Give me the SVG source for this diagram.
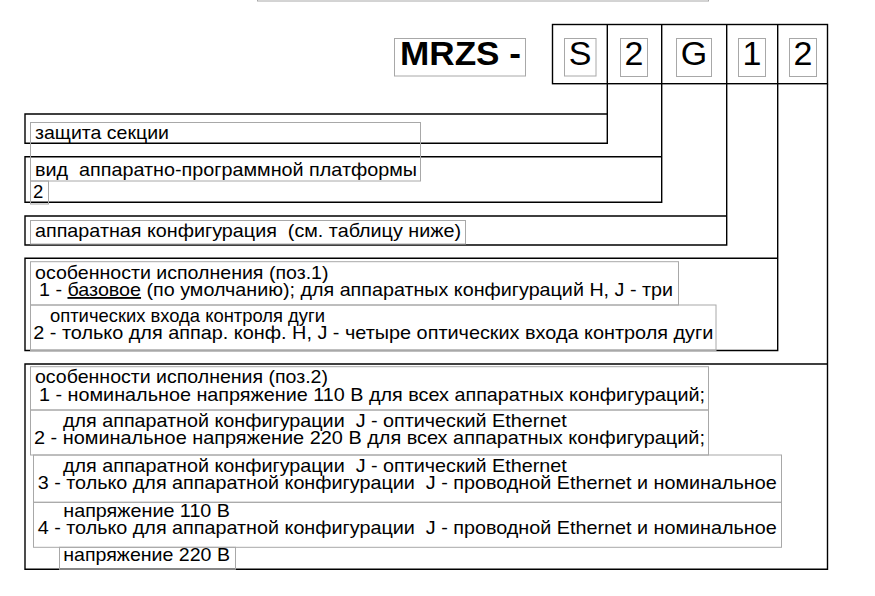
<svg xmlns="http://www.w3.org/2000/svg" width="875" height="596" viewBox="0 0 875 596" xml:space="preserve">
<style>
.ln{fill:none;stroke:#000;stroke-width:1.4}
.gb{fill:none;stroke:#a8a8a8;stroke-width:1}
.t{font-family:"Liberation Sans",Arial,sans-serif;font-size:18.5px;fill:#000;white-space:pre}
.big{font-family:"Liberation Sans",Arial,sans-serif;font-size:34px;fill:#000;text-anchor:middle}
.title{font-family:"Liberation Sans",Arial,sans-serif;font-size:34px;font-weight:bold;fill:#000}
</style>
<rect width="875" height="596" fill="#fff"/>
<rect class="gb" x="257.5" y="-20" width="451" height="21"/>

<g id="code">
  <rect class="gb" x="394.5" y="38.5" width="131" height="37.5"/>
  <text class="title" x="400" y="65" textLength="121" lengthAdjust="spacingAndGlyphs">MRZS -</text>
  <rect class="ln" x="552.5" y="24.5" width="275" height="59.2"/>
  <path class="ln" d="M607.3,24.5V83.7M661.7,24.5V83.7M726.7,24.5V83.7M777.7,24.5V83.7"/>
  <rect class="gb" x="564.5" y="38.5" width="31.5" height="37.5"/>
  <rect class="gb" x="620.5" y="38.5" width="27" height="38"/>
  <rect class="gb" x="676.5" y="38.5" width="35" height="38"/>
  <rect class="gb" x="738.5" y="38.5" width="27" height="38"/>
  <rect class="gb" x="789.5" y="38.5" width="27" height="38"/>
  <text class="big" x="580" y="65">S</text>
  <text class="big" x="634" y="65">2</text>
  <text class="big" x="694" y="65">G</text>
  <text class="big" x="752" y="65">1</text>
  <text class="big" x="803" y="65">2</text>
</g>

<g id="connectors">
  <path class="ln" d="M607.3,83.7V143.3H25V114H607.3"/>
  <path class="ln" d="M661.7,83.7V202.3H25V156.7H661.7"/>
  <path class="ln" d="M726.7,83.7V245H25V216H726.7"/>
  <path class="ln" d="M777.7,83.7V350.5H25V258.3H777.7"/>
  <path class="ln" d="M827.5,83.7V569.3H25V364H827.5"/>
</g>

<g id="n1">
  <rect class="gb" x="30.5" y="122.5" width="390" height="58.5"/>
  <text class="t" x="35" y="138.5" textLength="134" lengthAdjust="spacingAndGlyphs">защита секции</text>
</g>
<g id="n2">
  <text class="t" x="35" y="175.5" textLength="382" lengthAdjust="spacingAndGlyphs">вид  аппаратно-программной платформы</text>
  <rect class="gb" x="30.5" y="181" width="18" height="23"/>
  <text class="t" x="33" y="197.5">2</text>
</g>
<g id="n3">
  <rect class="gb" x="30.5" y="220.5" width="435" height="23.5"/>
  <text class="t" x="35" y="237" textLength="426" lengthAdjust="spacingAndGlyphs">аппаратная конфигурация  (см. таблицу ниже)</text>
</g>
<g id="n4">
  <rect class="gb" x="30.5" y="261.7" width="648" height="43.3"/>
  <rect class="gb" x="30.5" y="305" width="685.5" height="45.5"/>
  <text class="t" x="35" y="278.5" textLength="293.5" lengthAdjust="spacingAndGlyphs">особенности исполнения (поз.1)</text>
  <text class="t" x="39" y="296" textLength="634" lengthAdjust="spacingAndGlyphs">1 - <tspan text-decoration="underline">базовое</tspan> (по умолчанию); для аппаратных конфигураций H, J - три</text>
  <text class="t" x="50" y="322" textLength="275" lengthAdjust="spacingAndGlyphs">оптических входа контроля дуги</text>
  <text class="t" x="33.3" y="339" textLength="680" lengthAdjust="spacingAndGlyphs">2 - только для аппар. конф. H, J - четыре оптических входа контроля дуги</text>
</g>
<g id="n5">
  <rect class="gb" x="30.5" y="366.7" width="678" height="43.3"/>
  <rect class="gb" x="30.5" y="410" width="678" height="45"/>
  <rect class="gb" x="33.5" y="455" width="748" height="47.3"/>
  <rect class="gb" x="33.5" y="502.3" width="748" height="45"/>
  <rect class="gb" x="59.5" y="547.3" width="176" height="22"/>
  <text class="t" x="35" y="383.3" textLength="293" lengthAdjust="spacingAndGlyphs">особенности исполнения (поз.2)</text>
  <text class="t" x="39" y="401" textLength="666" lengthAdjust="spacingAndGlyphs">1 - номинальное напряжение 110 В для всех аппаратных конфигураций;</text>
  <text class="t" x="63" y="427" textLength="503.7" lengthAdjust="spacingAndGlyphs">для аппаратной конфигурации  J - оптический Ethernet</text>
  <text class="t" x="34" y="444" textLength="671" lengthAdjust="spacingAndGlyphs">2 - номинальное напряжение 220 В для всех аппаратных конфигураций;</text>
  <text class="t" x="63" y="472" textLength="503.7" lengthAdjust="spacingAndGlyphs">для аппаратной конфигурации  J - оптический Ethernet</text>
  <text class="t" x="37.7" y="489" textLength="739" lengthAdjust="spacingAndGlyphs">3 - только для аппаратной конфигурации  J - проводной Ethernet и номинальное</text>
  <text class="t" x="63.3" y="517" textLength="166.7" lengthAdjust="spacingAndGlyphs">напряжение 110 В</text>
  <text class="t" x="37.7" y="533.5" textLength="739" lengthAdjust="spacingAndGlyphs">4 - только для аппаратной конфигурации  J - проводной Ethernet и номинальное</text>
  <text class="t" x="63.3" y="561" textLength="166.7" lengthAdjust="spacingAndGlyphs">напряжение 220 В</text>
</g>
</svg>
